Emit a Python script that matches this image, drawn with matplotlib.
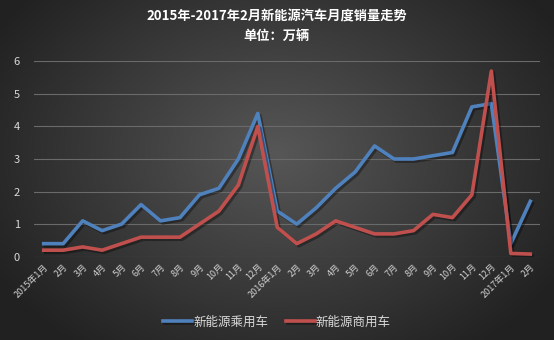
import numpy as np
import matplotlib
matplotlib.use("Agg")
import matplotlib.pyplot as plt
import matplotlib.patheffects as pe

plt.rcParams['font.family'] = ['Noto Sans CJK SC', 'DejaVu Sans']

months = ["2015年1月"] + [f"{m}月" for m in range(2, 13)] + \
         ["2016年1月"] + [f"{m}月" for m in range(2, 13)] + \
         ["2017年1月", "2月"]
passenger = [0.4, 0.4, 1.1, 0.8, 1.0, 1.6, 1.1, 1.2, 1.9, 2.1, 3.0, 4.4,
             1.4, 1.0, 1.5, 2.1, 2.6, 3.4, 3.0, 3.0, 3.1, 3.2, 4.6, 4.7,
             0.4, 1.7]
commercial = [0.2, 0.2, 0.3, 0.2, 0.4, 0.6, 0.6, 0.6, 1.0, 1.4, 2.2, 4.0,
              0.9, 0.4, 0.7, 1.1, 0.9, 0.7, 0.7, 0.8, 1.3, 1.2, 1.9, 5.7,
              0.1, 0.08]

W, H = 554, 340
fig = plt.figure(figsize=(W / 100, H / 100), dpi=100)

# radial gradient background
bg = fig.add_axes([0, 0, 1, 1], zorder=-10)
yy, xx = np.mgrid[0:H, 0:W]
r = np.sqrt(((xx - W * 0.5) / (W * 0.62)) ** 2 + ((yy - H * 0.45) / (H * 0.75)) ** 2)
shade = np.clip(0.34 - 0.22 * r, 0.13, 0.34)
bg.imshow(np.dstack([shade] * 3), aspect='auto', extent=[0, 1, 0, 1])
bg.axis('off')

ax = fig.add_axes([34 / W, 1 - 256.7 / H, 506 / W, (256.7 - 61.3) / H])
ax.patch.set_alpha(0)
x = np.arange(len(months))
shadow = [pe.SimpleLineShadow(offset=(1.5, -1.5), shadow_color='black', alpha=0.35), pe.Normal()]
ax.plot(x, passenger, color='#4F81BD', lw=2.6, label='新能源乘用车', path_effects=shadow,
        solid_joinstyle='round', zorder=3)
ax.plot(x, commercial, color='#C0504D', lw=2.6, label='新能源商用车', path_effects=shadow,
        solid_joinstyle='round', zorder=3)

ax.set_xlim(-0.5, len(months) - 0.5)
ax.set_ylim(0, 6)
ax.set_yticks(range(0, 7))
ax.grid(axis='y', color='#6a6a6a', lw=0.8)
ax.set_axisbelow(True)
for s in ax.spines.values():
    s.set_visible(False)
ax.tick_params(length=0)
ax.tick_params(axis='y', colors='#d9d9d9', labelsize=8, pad=10)
ax.set_xticks(x)
ax.set_xticklabels(months, rotation=45, ha='right', rotation_mode='anchor',
                   fontsize=6.5, color='#d0d0d0')
ax.tick_params(axis='x', pad=4)

fig.text(0.5, 1 - 16 / H, "2015年-2017年2月新能源汽车月度销量走势", ha='center', va='center',
         color='white', fontsize=9.5, fontweight='bold')
fig.text(0.5, 1 - 36 / H, "单位：万辆", ha='center', va='center',
         color='white', fontsize=9.5, fontweight='bold')

leg = fig.legend(loc='center', bbox_to_anchor=(0.5, 1 - 322 / H), ncol=2, frameon=False,
                 fontsize=9, handlelength=2.3, columnspacing=1.4, handletextpad=0.1)
for t in leg.get_texts():
    t.set_color('#d9d9d9')

fig.savefig("out.png", dpi=100)
